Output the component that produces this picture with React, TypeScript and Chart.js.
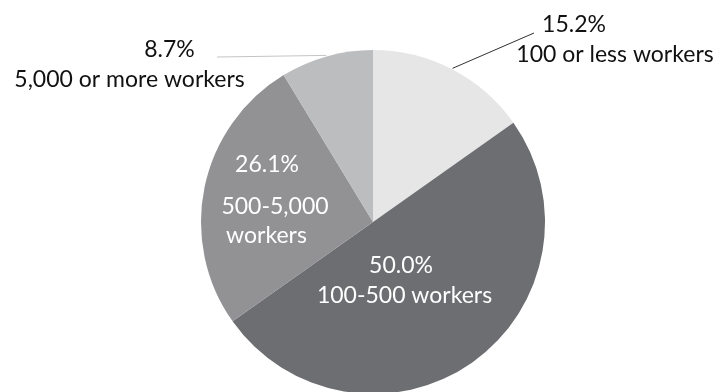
import React, { useEffect, useRef } from "react";
import { Chart, registerables } from "chart.js";

Chart.register(...registerables);

// ---- data ----
const categories = ["100 or less workers", "100-500 workers", "500-5,000 workers", "5,000 or more workers"];
const shares = [15.2, 50.0, 26.1, 8.7];
const categoryLines = [["100 or less workers"], ["100-500 workers"], ["500-5,000", "workers"], ["5,000 or more workers"]];
const sliceColors = ["#e6e6e7", "#6d6e71", "#929295", "#bcbdbf"];

// ---- label placement (offsets from pie centre, in px at radius 172) ----
const labelPlacement = [
  { color: "#111111", lines: [[201, -190], [242, -160]], leader: [161, -189], leaderColor: "#303030" },
  { color: "#ffffff", lines: [[28, 51], [31.5, 81]] },
  { color: "#ffffff", lines: [[-106, -50], [-98, -8], [-106.5, 21]] },
  { color: "#111111", lines: [[-203.5, -165], [-243.5, -135]], leader: [-156, -165], leaderColor: "#c4c4c6" },
];

const labelPlugin = {
  id: "pieLabels",
  afterDatasetsDraw(chart: any) {
    const ctx = chart.ctx;
    const meta = chart.getDatasetMeta(0);
    meta.data.forEach((arc: any, i: number) => {
      const p = labelPlacement[i];
      const cx = arc.x;
      const cy = arc.y;
      const r = arc.outerRadius;
      const k = r / 172;
      const mid = (arc.startAngle + arc.endAngle) / 2;
      ctx.save();
      if (p.leader) {
        ctx.strokeStyle = p.leaderColor;
        ctx.lineWidth = 1;
        ctx.beginPath();
        ctx.moveTo(cx + (r + 1) * Math.cos(mid), cy + (r + 1) * Math.sin(mid));
        ctx.lineTo(cx + p.leader[0] * k, cy + p.leader[1] * k);
        ctx.stroke();
      }
      const texts = [shares[i].toFixed(1) + "%", ...categoryLines[i]];
      ctx.fillStyle = p.color;
      ctx.font = "23px Lato, 'Open Sans', sans-serif";
      ctx.textAlign = "center";
      ctx.textBaseline = "alphabetic";
      texts.forEach((t, j) => {
        const off = p.lines[j];
        ctx.fillText(t, cx + off[0] * k, cy + off[1] * k);
      });
      ctx.restore();
    });
  },
};

export default function App() {
  const ref = useRef<HTMLCanvasElement | null>(null);
  useEffect(() => {
    if (!ref.current) return;
    const chart = new Chart(ref.current, {
      type: "pie",
      data: {
        labels: categories,
        datasets: [
          {
            data: shares,
            backgroundColor: sliceColors,
            borderWidth: 0,
          },
        ],
      },
      options: {
        animation: false,
        responsive: false,
        devicePixelRatio: 1,
        layout: { padding: { top: 50, bottom: 6, left: 201, right: 175 } },
        plugins: { legend: { display: false }, tooltip: { enabled: false } },
      },
      plugins: [labelPlugin],
    });
    return () => chart.destroy();
  }, []);
  return (
    <div style={{ position: "absolute", left: 0, top: 0, width: 720, height: 392, overflow: "hidden", background: "#ffffff" }}>
      <canvas ref={ref} width={720} height={400} style={{ display: "block" }} />
    </div>
  );
}
